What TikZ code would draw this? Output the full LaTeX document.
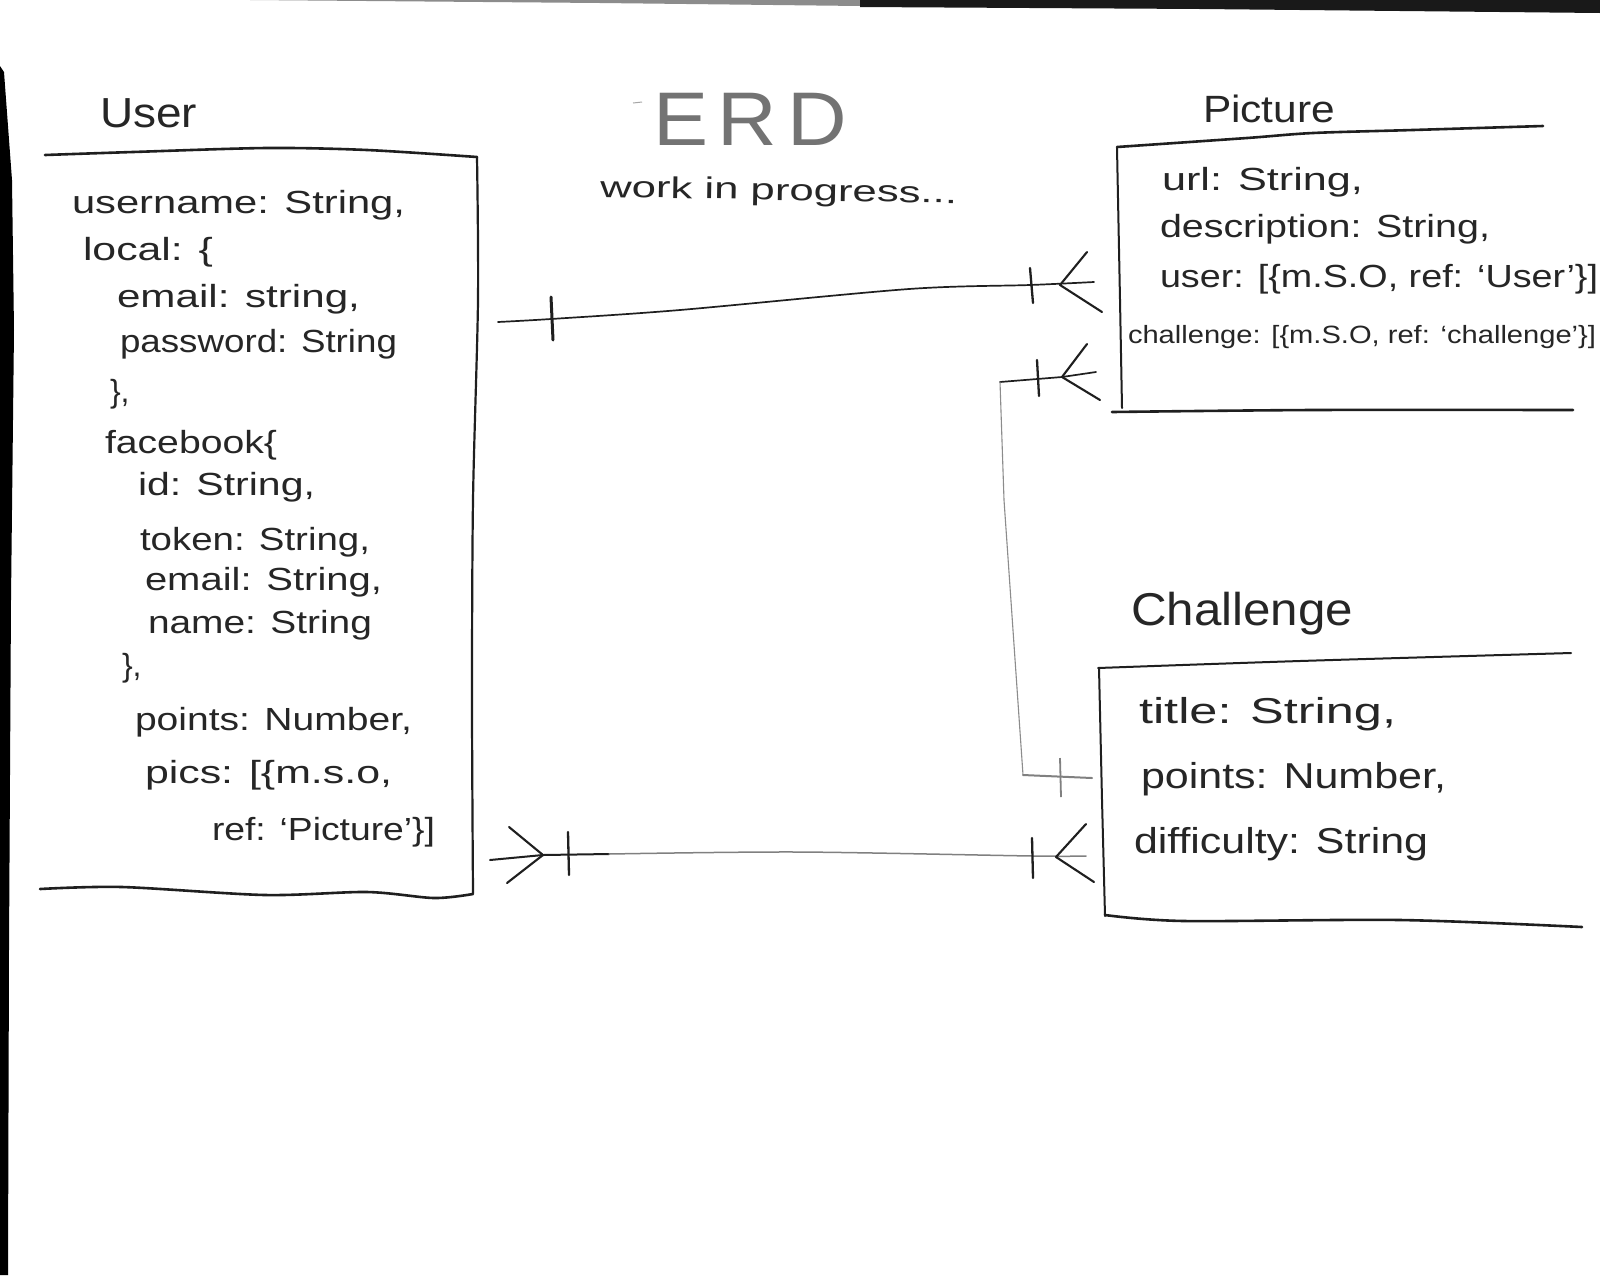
\documentclass[tikz,border=0pt]{standalone}
\usepackage{fontspec}
\setmainfont{Liberation Sans}
\usepackage{graphicx}
\newcommand{\hwfit}[2]{\resizebox{#1pt}{\height}{#2}}
\tikzset{
  ink/.style={draw=black!88, line cap=round, line join=round},
  boxline/.style={ink, line width=2.6pt},
  conn/.style={ink, line width=1.7pt},
  paleconn/.style={draw=black!50, line width=1.5pt, line cap=round, line join=round},
  thinconn/.style={draw=black!45, line width=1.1pt, line cap=round, line join=round},
  tickmark/.style={ink, line width=2.3pt},
  foot/.style={ink, line width=2.1pt},
  hand/.style={inner sep=0pt, outer sep=0pt, anchor=base west, text=black!85},
  fuser/.style={hand, font=\fontsize{32}{34}\selectfont},
  fpic/.style={hand, font=\fontsize{32}{34}\selectfont},
  fpicsmall/.style={hand, font=\fontsize{25}{27}\selectfont},
  fchal/.style={hand, font=\fontsize{36}{38}\selectfont},
}
\begin{document}
\begin{tikzpicture}[x=1pt,y=-1pt]
\useasboundingbox (0,0) rectangle (1600,1275);
\fill[white] (0,0) rectangle (1600,1275);

% scan edges
\fill[black] (0,66) -- (4,72) -- (12,180) -- (14,330) -- (11,600) -- (9,950) -- (8,1275) -- (0,1275) -- cycle;
\fill[black!45] (250,0) -- (600,3) -- (860,6) -- (860,0) -- cycle;
\fill[black!90] (860,0) -- (860,7) -- (1200,9) -- (1600,13) -- (1600,0) -- cycle;

% ---------- titles ----------
\node[hand, font=\fontsize{42}{44}\selectfont] (tuser) at (100,127) {\hwfit{97}{User}};
\node[hand, text=black!55, font=\fontsize{76}{78}\selectfont] (terd) at (653,145) {\hwfit{194}{E\hspace{0.12em}R\hspace{0.12em}D}};
\draw[draw=black!35, line width=1pt] (633,103) -- (642,102);
\node[hand, font=\fontsize{30}{32}\selectfont, rotate=-1] (twip) at (600,197) {\hwfit{357}{work in progress...}};
\node[hand, font=\fontsize{38}{40}\selectfont] (tpic) at (1203,122) {\hwfit{132}{Picture}};
\node[hand, font=\fontsize{46}{48}\selectfont] (tchal) at (1131,625) {\hwfit{222}{Challenge}};

% ---------- User box ----------
\draw[boxline] plot[smooth, tension=0.5] coordinates {(45,155) (133,152) (267,148) (367,150) (477,157)};
\draw[boxline, line width=2.2pt] plot[smooth, tension=0.5] coordinates {(477,157) (478,300) (473,500) (472,700) (473,893)};
\draw[boxline] plot[smooth, tension=0.5] coordinates {(473,894) (434,898) (367,892) (265,895) (122,887) (40,889)};

\node[fuser] (u1)  at (72,213)  {\hwfit{333}{username: String,}};
\node[fuser] (u2)  at (83,260)  {\hwfit{130}{local: \{}};
\node[fuser] (u3)  at (117,307) {\hwfit{243}{email: string,}};
\node[fuser] (u4)  at (120,352) {\hwfit{277}{password: String}};
\node[fuser] (u5)  at (110,402) {\},};
\node[fuser] (u6)  at (105,453) {\hwfit{172}{facebook\{}};
\node[fuser] (u7)  at (138,495) {\hwfit{177}{id: String,}};
\node[fuser] (u8)  at (140,550) {\hwfit{230}{token: String,}};
\node[fuser] (u9)  at (145,590) {\hwfit{237}{email: String,}};
\node[fuser] (u10) at (148,633) {\hwfit{224}{name: String}};
\node[fuser] (u11) at (122,676) {\},};
\node[fuser] (u12) at (135,730) {\hwfit{277}{points: Number,}};
\node[fuser] (u13) at (145,783) {\hwfit{247}{pics: [\{m.s.o,}};
\node[fuser] (u14) at (212,840) {\hwfit{223}{ref: `Picture'\}]}};

% ---------- Picture box ----------
\draw[boxline] plot[smooth, tension=0.5] coordinates {(1117,147) (1247,138) (1313,133) (1413,130) (1543,126)};
\draw[boxline, line width=2pt] (1117,148) -- (1120,300) -- (1122,408);
\draw[boxline] plot[smooth, tension=0.5] coordinates {(1112,412) (1313,410) (1573,410)};

\node[fpic] (p1) at (1162,190) {\hwfit{201}{url: String,}};
\node[fpic] (p2) at (1160,237) {\hwfit{330}{description: String,}};
\node[fpic] (p3) at (1160,287) {\hwfit{438}{user: [\{m.S.O, ref: `User'\}]}};
\node[fpicsmall] (p4) at (1128,343) {\hwfit{468}{challenge: [\{m.S.O, ref: `challenge'\}]}};

% ---------- Challenge box ----------
\draw[boxline, line width=2pt] plot[smooth, tension=0.5] coordinates {(1098,668) (1300,661) (1571,653)};
\draw[boxline, line width=2pt] (1099,668) -- (1102,800) -- (1105,916);
\draw[boxline] plot[smooth, tension=0.5] coordinates {(1105,915) (1184,921) (1400,920) (1582,927)};

\node[fchal] (c1) at (1139,723) {\hwfit{257}{title: String,}};
\node[fchal] (c2) at (1141,788) {\hwfit{305}{points: Number,}};
\node[fchal] (c3) at (1134,853) {\hwfit{294}{difficulty: String}};

% ---------- connector User -- Picture ----------
\coordinate (ua) at (498,322);
\coordinate (pa) at (1094,282);
\coordinate (va) at (1060,285);
\draw[conn] plot[smooth, tension=0.5] coordinates {(ua) (551,319) (680,310) (909,289) (1030,285) (pa)};
\draw[tickmark, line width=3pt] (551,297) -- (553,340);
\draw[tickmark] (1030,268) -- (1033,303);
\draw[foot] (1087,252) -- (va) -- (1102,312);

% ---------- connector Picture.challenge -- Challenge ----------
\coordinate (pb) at (1096,372);
\coordinate (vb) at (1062,377);
\coordinate (kb) at (1000,382);
\coordinate (kc) at (1023,775);
\coordinate (cb) at (1092,778);
\draw[conn] (pb) -- (vb) -- (kb);
\draw[thinconn] (kb) -- (1004,500) -- (kc);
\draw[paleconn, line width=2pt] (kc) -- (cb);
\draw[tickmark] (1037,360) -- (1039,396);
\draw[foot] (1087,344) -- (vb) -- (1100,400);
\draw[draw=black!50, line width=1.8pt] (1060,758) -- (1061,797);

% ---------- connector User -- Challenge ----------
\coordinate (ud) at (490,860);
\coordinate (vd) at (543,855);
\coordinate (ve) at (1056,857);
\coordinate (cd) at (1086,856);
\draw[conn, line width=2pt] (ud) -- (vd) -- (609,854);
\draw[paleconn] plot[smooth, tension=0.5] coordinates {(609,854) (797,852) (1033,856) (cd)};
\draw[foot] (509,827) -- (vd) -- (507,883);
\draw[tickmark] (568,832) -- (569,875);
\draw[tickmark] (1032,838) -- (1033,878);
\draw[foot] (1086,824) -- (ve) -- (1094,882);
\end{tikzpicture}
\end{document}
